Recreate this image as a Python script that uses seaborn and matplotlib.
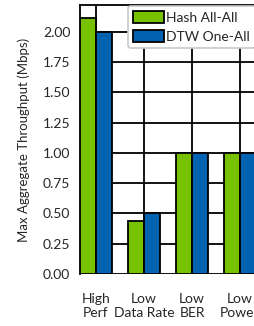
import matplotlib
matplotlib.use("Agg")
import matplotlib.pyplot as plt
import seaborn as sns
import pandas as pd

categories = ["High\nPerf", "Low\nData Rate", "Low\nBER", "Low\nPower"]
series_names = ["Hash All-All", "DTW One-All"]
hash_vals = [2.11, 0.44, 1.00, 1.00]
dtw_vals = [2.00, 0.50, 1.00, 1.00]
yticks = [0.0, 0.25, 0.5, 0.75, 1.0, 1.25, 1.5, 1.75, 2.0]
colors = ["#77c100", "#0062b0"]

df = pd.DataFrame({
    "cat": categories * 2,
    "series": [series_names[0]] * 4 + [series_names[1]] * 4,
    "val": hash_vals + dtw_vals,
})

sns.set_style("white")
plt.rcParams["font.family"] = ["Lato", "DejaVu Sans"]

fig = plt.figure(figsize=(2.55, 3.26), dpi=100)
ax = fig.add_axes([80 / 255, 1 - 274 / 326, 176 / 255, 269 / 326])

sns.barplot(data=df, x="cat", y="val", hue="series", palette=colors,
            width=0.667, edgecolor="black", linewidth=1.3, ax=ax, zorder=3,
            errorbar=None, saturation=1)

ax.set_xlim(-0.333, 3.333)
ax.set_ylim(0, 2.22)
ax.set_yticks(yticks)
ax.set_yticklabels([f"{v:.2f}" for v in yticks], fontsize=10)
ax.tick_params(axis="y", direction="out", length=4, width=1.2, color="black", pad=3)
ax.tick_params(axis="x", length=0, pad=14, labelsize=10)
ax.grid(True, color="black", linewidth=1.3, zorder=0)
ax.set_axisbelow(True)
for s in ["top", "left"]:
    ax.spines[s].set_color("black")
    ax.spines[s].set_linewidth(1.3)
ax.spines["right"].set_visible(False)
ax.spines["bottom"].set_visible(False)
ax.set_xlabel("")
ax.set_ylabel("Max Aggregate Throughput (Mbps)", fontsize=9.5, labelpad=9)

leg = ax.legend(loc="upper right", fontsize=10, frameon=True, handlelength=2.2,
                handleheight=0.9, handletextpad=0.15, borderpad=0.4,
                labelspacing=0.45, bbox_to_anchor=(1.0, 1.0), borderaxespad=0.05)
leg.get_frame().set_edgecolor("#c8c8c8")
leg.get_frame().set_linewidth(1.2)
leg.get_frame().set_alpha(1)
for h in leg.legend_handles:
    h.set_edgecolor("black")
    h.set_linewidth(1.3)

fig.savefig("out.png", dpi=100)
